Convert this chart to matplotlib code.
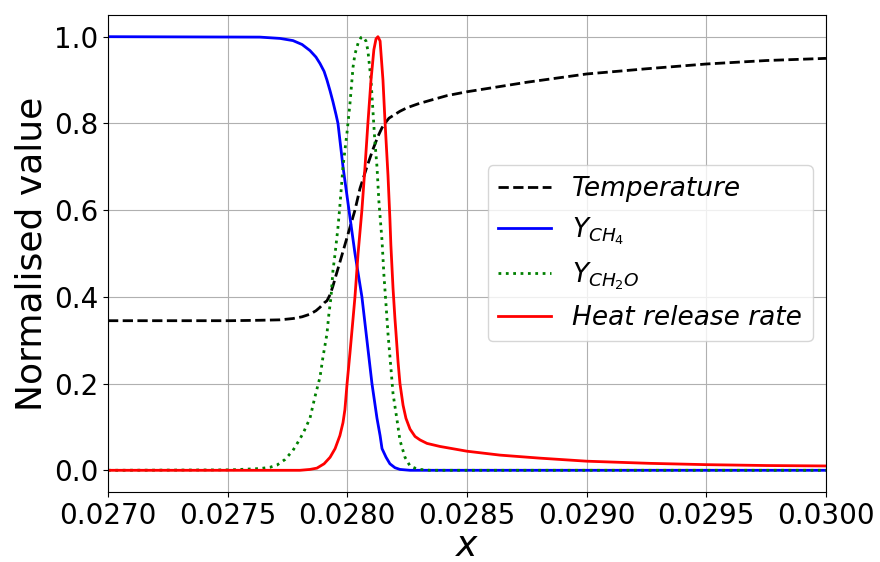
import matplotlib
matplotlib.use("Agg")
import matplotlib.pyplot as plt

# ---- data ----
temp_x = [0.027000, 0.027510, 0.027635, 0.027719, 0.027773, 0.027811,
          0.027844, 0.027869, 0.027886, 0.027903, 0.027915, 0.027928,
          0.027940, 0.027953, 0.027969, 0.027990, 0.028011, 0.028032,
          0.028053, 0.028082, 0.028107, 0.028128, 0.028145, 0.028157,
          0.028174, 0.028191, 0.028220, 0.028249, 0.028295, 0.028345,
          0.028416, 0.028500, 0.028751, 0.029000, 0.029250, 0.029500,
          0.029750, 0.030000]
temp_y = [0.345, 0.345, 0.346, 0.347, 0.350, 0.354,
          0.360, 0.368, 0.376, 0.386, 0.391, 0.405,
          0.425, 0.450, 0.480, 0.520, 0.560, 0.600,
          0.650, 0.700, 0.740, 0.770, 0.790, 0.800,
          0.812, 0.818, 0.828, 0.836, 0.845, 0.853,
          0.864, 0.873, 0.895, 0.914, 0.926, 0.937,
          0.945, 0.950]

ch4_x = [0.027000, 0.027635, 0.027719, 0.027773, 0.027811, 0.027844,
         0.027869, 0.027886, 0.027903, 0.027915, 0.027928, 0.027940,
         0.027953, 0.027961, 0.027982, 0.028007, 0.028032, 0.028061,
         0.028082, 0.028103, 0.028124, 0.028137, 0.028145, 0.028162,
         0.028178, 0.028199, 0.028220, 0.028262, 0.030000]
ch4_y = [1.000, 0.999, 0.996, 0.991, 0.982, 0.968,
         0.953, 0.938, 0.920, 0.900, 0.875, 0.850,
         0.820, 0.800, 0.700, 0.600, 0.500, 0.400,
         0.300, 0.200, 0.120, 0.080, 0.050, 0.030,
         0.015, 0.006, 0.002, 0.000, 0.000]

ch2o_x = [0.027000, 0.027510, 0.027593, 0.027635, 0.027677, 0.027706,
          0.027740, 0.027773, 0.027794, 0.027815, 0.027844, 0.027865,
          0.027886, 0.027898, 0.027915, 0.027923, 0.027932, 0.027940,
          0.027949, 0.027961, 0.027969, 0.027982, 0.027999, 0.028011,
          0.028024, 0.028032, 0.028045, 0.028057, 0.028065, 0.028078,
          0.028086, 0.028099, 0.028107, 0.028115, 0.028124, 0.028132,
          0.028145, 0.028153, 0.028162, 0.028170, 0.028182, 0.028191,
          0.028208, 0.028220, 0.028241, 0.028262, 0.028283, 0.028304,
          0.028345, 0.030000]
ch2o_y = [0.000, 0.001, 0.003, 0.004, 0.007, 0.012,
          0.025, 0.046, 0.065, 0.085, 0.120, 0.170,
          0.215, 0.260, 0.315, 0.360, 0.400, 0.460,
          0.500, 0.560, 0.610, 0.700, 0.780, 0.845,
          0.930, 0.960, 0.985, 0.998, 1.000, 0.990,
          0.968, 0.900, 0.830, 0.760, 0.700, 0.620,
          0.530, 0.450, 0.380, 0.315, 0.237, 0.177,
          0.115, 0.069, 0.030, 0.010, 0.005, 0.002,
          0.000, 0.000]

hrr_x = [0.027000, 0.027802, 0.027844, 0.027873, 0.027903, 0.027928,
         0.027949, 0.027969, 0.027982, 0.027990, 0.027999, 0.028011,
         0.028024, 0.028032, 0.028045, 0.028061, 0.028074, 0.028086,
         0.028099, 0.028111, 0.028120, 0.028128, 0.028137, 0.028141,
         0.028149, 0.028157, 0.028170, 0.028178, 0.028182, 0.028191,
         0.028199, 0.028203, 0.028212, 0.028220, 0.028233, 0.028245,
         0.028262, 0.028283, 0.028304, 0.028333, 0.028387, 0.028500,
         0.028638, 0.028805, 0.029000, 0.029265, 0.029500, 0.029750,
         0.030000]
hrr_y = [0.000, 0.000, 0.002, 0.005, 0.015, 0.030,
         0.050, 0.080, 0.110, 0.140, 0.200, 0.270,
         0.350, 0.400, 0.500, 0.600, 0.700, 0.800,
         0.900, 0.970, 0.995, 1.000, 0.990, 0.960,
         0.900, 0.810, 0.680, 0.580, 0.520, 0.420,
         0.350, 0.320, 0.250, 0.200, 0.150, 0.120,
         0.095, 0.078, 0.070, 0.062, 0.055, 0.044,
         0.035, 0.028, 0.021, 0.016, 0.013, 0.011,
         0.010]

labels = ["Temperature", r"$Y_{CH_4}$", r"$Y_{CH_2O}$", "Heat release rate"]
xticks = [0.0270, 0.0275, 0.0280, 0.0285, 0.0290, 0.0295, 0.0300]
yticks = [0.0, 0.2, 0.4, 0.6, 0.8, 1.0]

fig = plt.figure(figsize=(8.8, 5.62), dpi=100)
ax = fig.add_axes([0.1227, 0.1246, 0.8159, 0.8487])

ax.plot(temp_x, temp_y, "k--", lw=2, label=labels[0])
ax.plot(ch4_x, ch4_y, color="blue", lw=2, label=labels[1])
ax.plot(ch2o_x, ch2o_y, color="green", ls=":", lw=2, label=labels[2])
ax.plot(hrr_x, hrr_y, color="red", lw=2, label=labels[3])

ax.set_xlim(0.0270, 0.0300)
ax.set_ylim(-0.05, 1.05)
ax.set_xticks(xticks)
ax.set_xticklabels([f"{v:.4f}" for v in xticks])
ax.set_yticks(yticks)
ax.set_yticklabels([f"{v:.1f}" for v in yticks])
ax.tick_params(labelsize=20)
ax.grid(True, color="#b0b0b0", lw=0.8)
ax.set_axisbelow(True)

ax.set_xlabel("x", fontsize=26, style="italic", labelpad=-0.5)
ax.set_ylabel("Normalised value", fontsize=26)

ax.legend(loc="center right", prop={"style": "italic", "size": 19})

fig.savefig("out.png", dpi=100)
